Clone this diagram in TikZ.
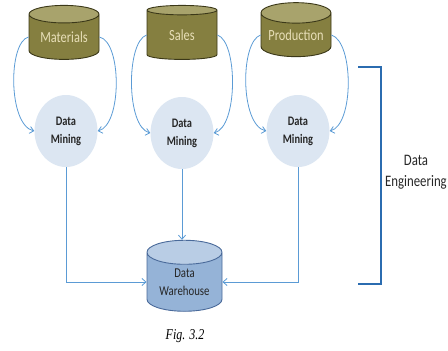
\documentclass[tikz,border=0pt]{standalone}
\usepackage{fontspec}
\setmainfont{Carlito}[FakeStretch=0.8]
\newfontfamily\figfont{Liberation Serif}[FakeStretch=0.8]
\usetikzlibrary{shapes.geometric,arrows.meta}
\definecolor{olivebody}{HTML}{857F40}
\definecolor{olivetop}{HTML}{A8A36C}
\definecolor{oliveline}{HTML}{3B3818}
\definecolor{olivetext}{HTML}{E8DFB8}
\definecolor{minefill}{HTML}{DCE6F2}
\definecolor{conn}{HTML}{5B9BD5}
\definecolor{whbody}{HTML}{95B3D7}
\definecolor{whtop}{HTML}{B9CDE5}
\definecolor{whline}{HTML}{4A6A9A}
\definecolor{brack}{HTML}{2B6CB0}
\begin{document}
\begin{tikzpicture}[x=1pt,y=-1pt,
  srcdb/.style={cylinder, shape border rotate=90, aspect=0.37,
    minimum width=70pt, minimum height=54pt, inner sep=0pt,
    draw=oliveline, line width=0.9pt, cylinder uses custom fill,
    cylinder body fill=olivebody, cylinder end fill=olivetop,
    text=olivetext, font=\fontsize{15.5}{17}\selectfont},
  minecirc/.style={ellipse, minimum width=63pt, minimum height=72pt,
    fill=minefill, align=center, text=black!85,
    font=\bfseries\fontsize{13}{18}\selectfont},
  whdb/.style={cylinder, shape border rotate=90, aspect=0.48,
    minimum width=75pt, minimum height=71pt, inner sep=0pt,
    draw=whline, line width=0.9pt, cylinder uses custom fill,
    cylinder body fill=whbody, cylinder end fill=whtop, align=center,
    text=black!85, font=\fontsize{13.5}{18}\selectfont},
  conline/.style={draw=conn, line width=0.8pt},
  arr/.style={conline, -{Straight Barb[length=4pt,width=7pt]}},
  bracket/.style={draw=brack, line width=2.4pt}
]
\useasboundingbox (0,0) rectangle (448,351);
\node[srcdb] (mat) at (64,37) {Materials};
\node[srcdb] (sal) at (182,35) {Sales};
\node[srcdb] (pro) at (296,35) {Production};
\node[minecirc] (dm1) at (66,131) {Data\\Mining};
\node[minecirc] (dm2) at (182,133) {Data\\Mining};
\node[minecirc] (dm3) at (298,131) {Data\\Mining};
\node[whdb] (wh) at (184.5,282) {Data\\Warehouse};

\draw[arr] (mat.west) .. controls (8,42) and (8,125) .. (dm1.west);
\draw[arr] (mat.east) .. controls (122,42) and (122,125) .. (dm1.east);
\draw[arr] (sal.west) .. controls (126,42) and (126,127) .. (dm2.west);
\draw[arr] (sal.east) .. controls (238,42) and (238,127) .. (dm2.east);
\draw[arr] (pro.west) .. controls (240,42) and (240,125) .. (dm3.west);
\draw[arr] (pro.east) .. controls (354,42) and (354,125) .. (dm3.east);

\draw[arr] (dm1.south) |- (wh.west);
\draw[arr] (dm2.south) -- (dm2.south |- wh.north);
\draw[arr] (dm3.south) |- (wh.east);

\coordinate (b1) at (358,67);
\coordinate (b2) at (381,67);
\coordinate (b3) at (381,284);
\coordinate (b4) at (358,284);
\draw[bracket] (b1) -- (b2) -- (b3) -- (b4);
\node[align=center, text=black!85, font=\fontsize{16}{21}\selectfont] (de) at (416,172) {Data\\Engineering};
\node[font=\figfont\itshape\fontsize{15}{16}\selectfont] (fig) at (185,336) {Fig. 3.2};
\end{tikzpicture}
\end{document}
